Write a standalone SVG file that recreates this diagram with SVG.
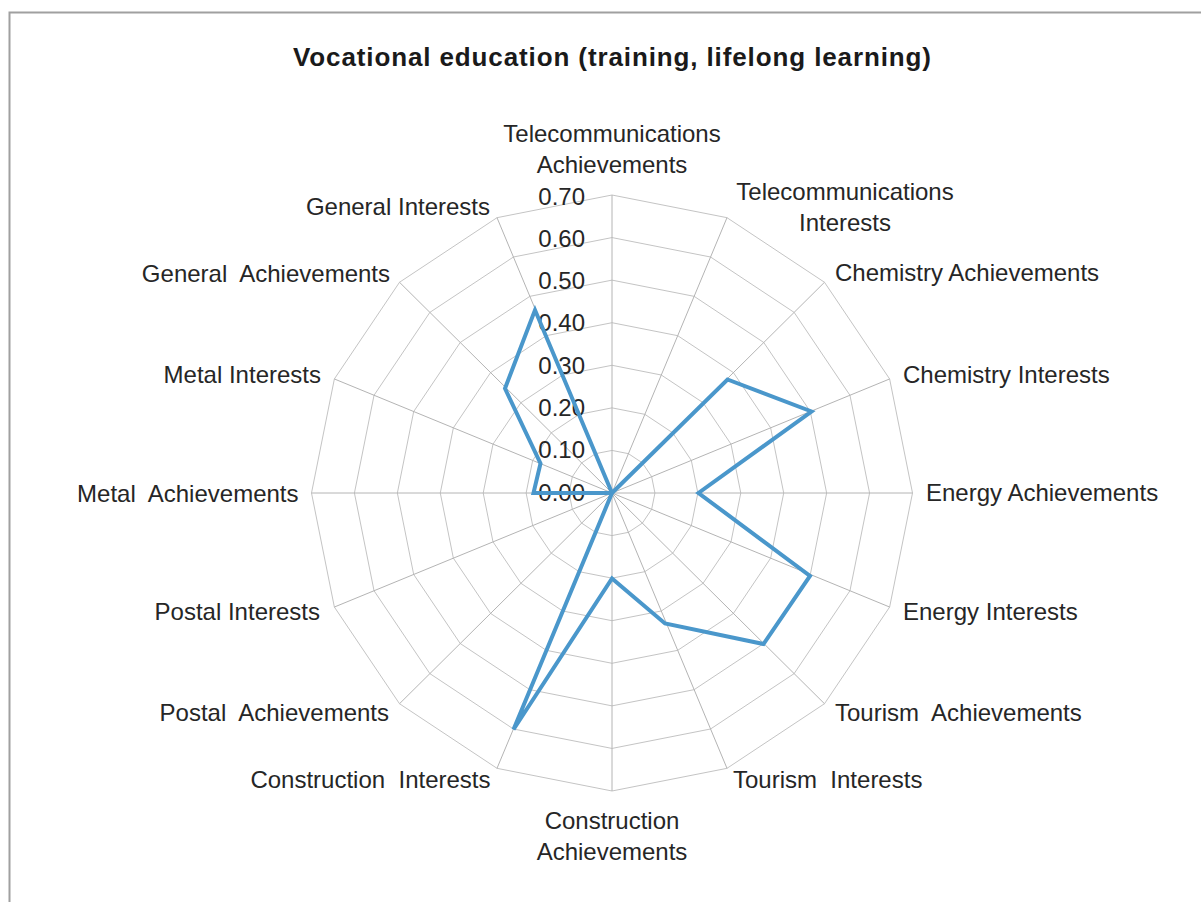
<svg xmlns="http://www.w3.org/2000/svg" xmlns:xlink="http://www.w3.org/1999/xlink" width="1201" height="902" viewBox="0 0 1201 902">
  <style>
    .lbl { font-family: "Liberation Sans", Arial, sans-serif; font-size: 24px; fill: #262626; white-space: pre; }
    .tick { font-family: "Liberation Sans", Arial, sans-serif; font-size: 24px; fill: #262626; text-anchor: end; }
    .title { font-family: "Liberation Sans", Arial, sans-serif; font-size: 26px; font-weight: bold; fill: #1a1a1a; text-anchor: middle; }
    .ring { fill: none; stroke: #c4c4c4; stroke-width: 1; vector-effect: non-scaling-stroke; }
    .spoke { fill: none; stroke: #b4b4b4; stroke-width: 1; vector-effect: non-scaling-stroke; }
    .series { fill: none; stroke: #4a97cb; stroke-width: 4; stroke-linejoin: miter; stroke-miterlimit: 10; }
  </style>
  <defs>
    <polygon id="unitRing" class="ring" points="0,-100 38.268,-92.388 70.711,-70.711 92.388,-38.268 100,0 92.388,38.268 70.711,70.711 38.268,92.388 0,100 -38.268,92.388 -70.711,70.711 -92.388,38.268 -100,0 -92.388,-38.268 -70.711,-70.711 -38.268,-92.388"/>
  </defs>

  <rect x="0" y="0" width="1201" height="902" fill="#ffffff"/>
  <rect id="frame" x="9.5" y="12.5" width="1300" height="1000" fill="none" stroke="#a0a0a0" stroke-width="2"/>

  <g id="title">
    <text class="title" x="612" y="66" textLength="638" lengthAdjust="spacing">Vocational education (training, lifelong learning)</text>
  </g>

  <g id="grid">
    <use xlink:href="#unitRing" transform="translate(612,493) scale(0.4293,0.4257)"/>
    <use xlink:href="#unitRing" transform="translate(612,493) scale(0.8586,0.8514)"/>
    <use xlink:href="#unitRing" transform="translate(612,493) scale(1.2879,1.2771)"/>
    <use xlink:href="#unitRing" transform="translate(612,493) scale(1.7171,1.7029)"/>
    <use xlink:href="#unitRing" transform="translate(612,493) scale(2.1464,2.1286)"/>
    <use xlink:href="#unitRing" transform="translate(612,493) scale(2.5757,2.5543)"/>
    <use xlink:href="#unitRing" transform="translate(612,493) scale(3.005,2.98)"/>
    <path class="spoke" transform="translate(612,493) scale(3.005,2.98)" d="M0,0L0,-100M0,0L38.268,-92.388M0,0L70.711,-70.711M0,0L92.388,-38.268M0,0L100,0M0,0L92.388,38.268M0,0L70.711,70.711M0,0L38.268,92.388M0,0L0,100M0,0L-38.268,92.388M0,0L-70.711,70.711M0,0L-92.388,38.268M0,0L-100,0M0,0L-92.388,-38.268M0,0L-70.711,-70.711M0,0L-38.268,-92.388"/>
  </g>

  <g id="tick-labels">
    <text class="tick" x="585" y="204.5">0.70</text>
    <text class="tick" x="585" y="246.8">0.60</text>
    <text class="tick" x="585" y="289.1">0.50</text>
    <text class="tick" x="585" y="331.4">0.40</text>
    <text class="tick" x="585" y="373.7">0.30</text>
    <text class="tick" x="585" y="416">0.20</text>
    <text class="tick" x="585" y="458.3">0.10</text>
    <text class="tick" x="585" y="500.6">0.00</text>
  </g>

  <g id="series">
    <path class="series" d="M612,493 L612,493 L727.5,379.5 L811.5,411.5 L698.5,493 L810,576 L763.5,644 L665,623.5 L612,578.5 L513.5,729.5 L612,493 L612,493 L533.5,493 L540.5,463.5 L505,388.5 L535,310 Z"/>
  </g>

  <g id="axis-labels">
    <g id="lbl-telecom-ach">
      <text class="lbl" x="612" y="142" text-anchor="middle">Telecommunications</text>
      <text class="lbl" x="612" y="172.5" text-anchor="middle">Achievements</text>
    </g>
    <g id="lbl-telecom-int">
      <text class="lbl" x="845" y="200" text-anchor="middle">Telecommunications</text>
      <text class="lbl" x="845" y="231" text-anchor="middle">Interests</text>
    </g>
    <g id="lbl-chem-ach"><text class="lbl" x="835" y="281">Chemistry Achievements</text></g>
    <g id="lbl-chem-int"><text class="lbl" x="903" y="382.5">Chemistry Interests</text></g>
    <g id="lbl-energy-ach"><text class="lbl" x="926" y="501">Energy Achievements</text></g>
    <g id="lbl-energy-int"><text class="lbl" x="903" y="619.5">Energy Interests</text></g>
    <g id="lbl-tourism-ach"><text class="lbl" x="835" y="721" xml:space="preserve">Tourism  Achievements</text></g>
    <g id="lbl-tourism-int"><text class="lbl" x="733" y="788" xml:space="preserve">Tourism  Interests</text></g>
    <g id="lbl-constr-ach">
      <text class="lbl" x="612" y="829" text-anchor="middle">Construction</text>
      <text class="lbl" x="612" y="860" text-anchor="middle">Achievements</text>
    </g>
    <g id="lbl-constr-int"><text class="lbl" x="490.5" y="787.5" text-anchor="end" xml:space="preserve">Construction  Interests</text></g>
    <g id="lbl-postal-ach"><text class="lbl" x="389" y="721" text-anchor="end" xml:space="preserve">Postal  Achievements</text></g>
    <g id="lbl-postal-int"><text class="lbl" x="320" y="620" text-anchor="end">Postal Interests</text></g>
    <g id="lbl-metal-ach"><text class="lbl" x="298.5" y="501.5" text-anchor="end" xml:space="preserve">Metal  Achievements</text></g>
    <g id="lbl-metal-int"><text class="lbl" x="321" y="382.5" text-anchor="end">Metal Interests</text></g>
    <g id="lbl-general-ach"><text class="lbl" x="390" y="281.5" text-anchor="end" xml:space="preserve">General  Achievements</text></g>
    <g id="lbl-general-int"><text class="lbl" x="490" y="214.5" text-anchor="end">General Interests</text></g>
  </g>
</svg>
